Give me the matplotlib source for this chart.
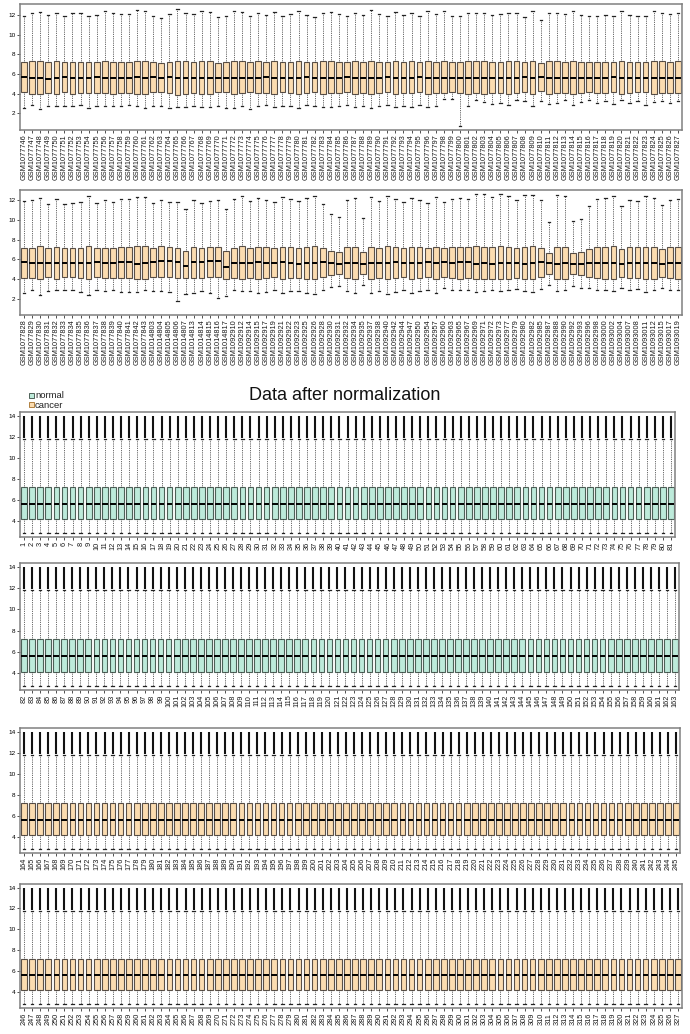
import matplotlib
matplotlib.use("Agg")
import matplotlib.pyplot as plt
from matplotlib.patches import Rectangle

plt.rcParams['font.family'] = ['Liberation Sans', 'DejaVu Sans']

# ---------------- data: raw (before normalization) ----------------
P1_LABELS = ["GSM%d" % v for v in range(1077746, 1077828)]
P2_IDS = [1077828, 1077829, 1077830, 1077831, 1077832, 1077833, 1077834, 1077835,
          1077836, 1077837, 1077838, 1077839, 1077840, 1077841, 1077842, 1077843,
          1014803, 1014804, 1014805, 1014806, 1014807, 1014813, 1014814, 1014815,
          1014816, 1014817,
          1092910, 1092912, 1092914, 1092915, 1092917, 1092919, 1092921, 1092922,
          1092923, 1092925, 1092926, 1092928, 1092930, 1092931, 1092932, 1092934,
          1092935, 1092937, 1092938, 1092940, 1092942, 1092944, 1092947, 1092950,
          1092954, 1092957,
          1092960, 1092963, 1092965, 1092967, 1092969, 1092971, 1092972, 1092973,
          1092977, 1092979, 1092980, 1092982, 1092985, 1092987, 1092988, 1092990,
          1092992, 1092993, 1092996, 1092998, 1093000, 1093002, 1093004, 1093007,
          1093008, 1093011, 1093012, 1093015, 1093017, 1093019]
P2_LABELS = ["GSM%d" % v for v in P2_IDS]

P1_WHISHI = [11.9, 12.2, 12.3, 12.0, 12.2, 11.9, 12.15, 12.15, 11.85, 12.0,
             12.4, 12.15, 12.1, 12.1, 12.5, 12.4, 11.9, 11.7, 12.1, 12.6,
             12.15, 12.1, 12.35, 12.3, 11.8, 11.9, 12.35, 12.3, 11.9, 12.2,
             12.0, 12.3, 11.9, 12.1, 12.4, 12.0, 11.8, 12.2, 12.3, 12.1,
             11.9, 12.2, 12.0, 12.5, 12.1, 11.85, 12.3, 12.0, 12.2, 11.9,
             12.4, 12.1, 12.4, 11.85, 11.85, 12.2, 12.15, 12.2, 12.0, 12.1,
             12.15, 12.2, 11.75, 12.4, 11.45, 12.2, 12.2, 12.1, 12.4, 12.0,
             11.9, 11.9, 12.0, 11.85, 12.4, 12.0, 11.9, 11.85, 12.35, 12.2,
             12.1, 12.15]
P1_Q3 = [7.25, 7.3, 7.3, 7.2, 7.3, 7.2, 7.25, 7.25, 7.2, 7.25,
         7.3, 7.25, 7.25, 7.25, 7.35, 7.3, 7.25, 7.15, 7.25, 7.35,
         7.3, 7.25, 7.35, 7.3, 7.15, 7.2, 7.3, 7.3, 7.2, 7.3,
         7.25, 7.3, 7.2, 7.25, 7.35, 7.25, 7.2, 7.3, 7.3, 7.25,
         7.2, 7.3, 7.25, 7.35, 7.25, 7.2, 7.3, 7.25, 7.3, 7.2,
         7.3, 7.25, 7.3, 7.2, 7.2, 7.3, 7.3, 7.3, 7.25, 7.25,
         7.3, 7.3, 7.2, 7.3, 7.15, 7.3, 7.3, 7.25, 7.3, 7.25,
         7.2, 7.25, 7.25, 7.2, 7.3, 7.25, 7.2, 7.2, 7.3, 7.3,
         7.25, 7.3]
P1_MED = [5.7, 5.55, 5.6, 5.5, 5.55, 5.65, 5.55, 5.55, 5.6, 5.65,
          5.6, 5.55, 5.6, 5.6, 5.65, 5.55, 5.7, 5.6, 5.65, 5.55,
          5.6, 5.55, 5.6, 5.6, 5.55, 5.6, 5.6, 5.6, 5.55, 5.6,
          5.65, 5.55, 5.6, 5.6, 5.55, 5.65, 5.6, 5.55, 5.6, 5.6,
          5.65, 5.55, 5.6, 5.55, 5.6, 5.65, 5.6, 5.55, 5.6, 5.65,
          5.55, 5.6, 5.6, 5.55, 5.55, 5.6, 5.55, 5.6, 5.6, 5.6,
          5.55, 5.6, 5.65, 5.6, 5.65, 5.55, 5.6, 5.6, 5.55, 5.6,
          5.6, 5.6, 5.6, 5.65, 5.55, 5.6, 5.6, 5.6, 5.55, 5.6,
          5.6, 5.6]
P1_Q1 = [4.2, 4.0, 3.95, 4.05, 4.0, 4.2, 4.0, 4.05, 4.1, 4.1,
         4.1, 4.0, 4.05, 4.05, 3.95, 4.0, 4.2, 4.15, 4.1, 3.9,
         4.0, 4.05, 4.0, 4.0, 4.15, 4.15, 4.0, 4.05, 4.15, 4.05,
         4.1, 4.0, 4.15, 4.05, 4.0, 4.1, 4.15, 4.0, 4.05, 4.1,
         4.15, 4.0, 4.1, 3.95, 4.05, 4.15, 4.0, 4.1, 4.05, 4.15,
         4.0, 4.1, 4.05, 4.15, 4.1, 4.0, 4.05, 4.0, 4.1, 4.05,
         4.0, 4.05, 4.2, 4.0, 4.3, 4.0, 4.05, 4.1, 4.0, 4.1,
         4.15, 4.1, 4.1, 4.15, 4.0, 4.1, 4.15, 4.15, 4.0, 4.05,
         4.1, 4.05]
P1_WHISLO = [2.5, 2.8, 2.45, 2.7, 2.7, 2.75, 2.75, 2.8, 2.5, 2.7,
             2.7, 2.7, 2.75, 2.8, 2.7, 2.5, 2.7, 2.7, 2.5, 2.6,
             2.6, 2.7, 2.6, 2.6, 2.75, 2.5, 2.5, 2.7, 2.4, 2.7,
             2.8, 2.6, 2.75, 2.7, 2.55, 2.8, 2.7, 2.6, 2.65, 2.75,
             2.8, 2.6, 2.7, 2.5, 2.7, 2.8, 2.65, 2.7, 2.6, 2.8,
             2.6, 2.7, 3.4, 3.4, 0.75, 2.7, 3.3, 3.1, 2.9, 3.0,
             2.8, 3.3, 3.2, 2.7, 3.2, 2.9, 3.0, 3.3, 2.8, 3.1,
             3.3, 3.0, 3.2, 2.9, 3.3, 3.0, 3.2, 2.8, 3.1, 3.2,
             3.0, 3.2]

P2_WHISHI = [11.9, 12.0, 12.25, 11.6, 12.15, 11.6, 11.75, 11.8, 12.4, 11.75,
             12.0, 11.8, 12.15, 12.15, 12.3, 12.3, 11.75, 12.0, 11.85, 11.85,
             11.15, 12.0, 11.75, 11.9, 12.0, 11.15, 12.1, 12.4, 11.9, 12.2,
             12.0, 11.8, 12.3, 12.1, 11.9, 12.2, 12.4, 11.6, 10.6, 10.3,
             12.0, 12.2, 10.2, 12.3, 11.9, 12.4, 12.1, 11.8, 12.2, 12.0,
             11.7, 12.3, 11.8, 12.1, 12.25, 12.15, 12.6, 12.65, 12.3, 12.6,
             12.4, 12.0, 12.5, 12.55, 12.05, 9.8, 12.5, 12.4, 9.9, 10.1,
             11.4, 12.15, 12.25, 12.4, 11.4, 12.0, 11.95, 12.4, 12.25, 11.5,
             12.05, 12.1]
P2_Q3 = [7.2, 7.2, 7.35, 7.2, 7.3, 7.2, 7.2, 7.2, 7.35, 7.2,
         7.2, 7.2, 7.3, 7.3, 7.35, 7.35, 7.2, 7.35, 7.3, 7.2,
         6.9, 7.3, 7.2, 7.3, 7.3, 6.9, 7.2, 7.35, 7.2, 7.3,
         7.25, 7.2, 7.3, 7.25, 7.2, 7.3, 7.35, 7.15, 6.9, 6.8,
         7.25, 7.3, 6.75, 7.3, 7.2, 7.35, 7.25, 7.15, 7.3, 7.25,
         7.15, 7.3, 7.2, 7.25, 7.3, 7.25, 7.35, 7.3, 7.3, 7.35,
         7.3, 7.2, 7.3, 7.35, 7.2, 6.6, 7.3, 7.3, 6.7, 6.8,
         7.1, 7.25, 7.3, 7.35, 7.1, 7.25, 7.25, 7.3, 7.3, 7.1,
         7.25, 7.3]
P2_MED = [5.7, 5.6, 5.65, 5.65, 5.6, 5.65, 5.65, 5.6, 5.6, 5.7,
          5.6, 5.65, 5.75, 5.7, 5.55, 5.65, 5.75, 5.85, 5.85, 5.75,
          5.3, 5.7, 5.7, 5.8, 5.8, 5.2, 5.65, 5.6, 5.6, 5.7,
          5.65, 5.6, 5.7, 5.6, 5.55, 5.65, 5.6, 5.7, 5.6, 5.55,
          5.65, 5.6, 5.5, 5.6, 5.65, 5.6, 5.7, 5.6, 5.65, 5.6,
          5.7, 5.6, 5.7, 5.65, 5.7, 5.7, 5.55, 5.6, 5.55, 5.6,
          5.6, 5.6, 5.55, 5.6, 5.75, 5.6, 5.55, 5.6, 5.55, 5.55,
          5.6, 5.6, 5.6, 5.6, 5.55, 5.6, 5.6, 5.6, 5.6, 5.55,
          5.65, 5.65]
P2_Q1 = [4.15, 4.1, 4.0, 4.25, 4.0, 4.25, 4.25, 4.15, 4.0, 4.25,
         4.1, 4.15, 4.15, 4.15, 4.0, 4.0, 4.25, 4.25, 4.25, 4.15,
         4.1, 4.15, 4.15, 4.25, 4.25, 4.0, 4.1, 4.0, 4.15, 4.05,
         4.1, 4.2, 4.05, 4.1, 4.15, 4.05, 4.0, 4.2, 4.4, 4.5,
         4.1, 4.05, 4.55, 4.0, 4.15, 4.0, 4.1, 4.2, 4.05, 4.1,
         4.2, 4.05, 4.2, 4.1, 4.05, 4.1, 4.0, 4.05, 4.05, 4.0,
         4.05, 4.15, 4.05, 4.0, 4.2, 4.5, 4.0, 4.05, 4.5, 4.4,
         4.25, 4.1, 4.05, 4.0, 4.25, 4.1, 4.1, 4.0, 4.05, 4.25,
         4.1, 4.05]
P2_WHISLO = [2.55, 2.9, 2.4, 2.75, 2.85, 2.9, 2.9, 2.65, 2.4, 2.85,
             2.75, 2.9, 2.65, 2.65, 2.65, 2.9, 2.75, 2.75, 2.65, 1.75,
             2.45, 2.6, 2.75, 2.6, 2.1, 2.25, 2.9, 2.75, 2.8, 2.6,
             2.7, 2.9, 2.6, 2.75, 2.8, 2.6, 2.5, 2.9, 3.2, 3.3,
             2.8, 2.6, 3.4, 2.6, 2.8, 2.5, 2.7, 2.9, 2.6, 2.75,
             2.9, 2.6, 3.1, 2.9, 2.9, 2.9, 2.7, 2.8, 2.9, 2.8,
             2.9, 3.0, 2.8, 2.7, 3.0, 3.4, 2.8, 2.9, 3.25, 3.1,
             3.1, 2.9, 2.9, 2.8, 3.1, 2.9, 3.0, 2.7, 2.9, 3.1,
             2.9, 2.9]

# ---------------- data: after normalization (identical distributions) ----------------
NORM_PANELS = [(1, 81), (82, 163), (164, 245), (246, 327)]
NORM_GROUP = ["normal", "normal", "cancer", "cancer"]
NORM_WHISLO = 2.85
NORM_Q1 = 4.15
NORM_MED = 5.6
NORM_Q3 = 7.2
NORM_WHISHI = 11.8
NORM_OUT_LO = 11.9
NORM_OUT_HI = 14.0
LEGEND_LABELS = ["normal", "cancer"]

# ---------------- styling ----------------
ORANGE = "#FBDCB0"
ORANGE_EDGE = "#5a5048"
GREEN = "#BDEADA"
GREEN_EDGE = "#4e6158"
FRAME = "#808080"
W, H = 690, 1034

fig = plt.figure(figsize=(W / 100, H / 100), dpi=100)


def add_ax(x0, x1, y0, y1):
    return fig.add_axes([x0 / W, 1 - y1 / H, (x1 - x0) / W, (y1 - y0) / H])


def draw(ax, whislo, q1, med, q3, whishi, labels, fill, edge, ylim, yticks,
         out_lo=None, out_hi=None):
    n = len(labels)
    stats = []
    for i in range(n):
        stats.append(dict(whislo=whislo[i], q1=q1[i], med=med[i], q3=q3[i],
                          whishi=whishi[i], fliers=[]))
    pos = list(range(1, n + 1))
    if out_lo is not None:
        ax.vlines(pos, out_lo, out_hi, color="#111111", lw=1.5, zorder=1)
    ax.bxp(stats, positions=pos, widths=0.7, patch_artist=True, showfliers=False,
           boxprops=dict(facecolor=fill, edgecolor=edge, linewidth=0.8),
           medianprops=dict(color="black", linewidth=1.4),
           whiskerprops=dict(color="#333333", linestyle=(0, (1, 1.2)), linewidth=0.6),
           capprops=dict(color="#222222", linewidth=0.9), capwidths=0.3)
    ax.set_xlim(0.5, n + 0.5)
    ax.set_ylim(*ylim)
    ax.set_yticks(yticks)
    ax.set_yticklabels([str(t) for t in yticks], fontsize=4.6)
    ax.set_xticks(pos)
    ax.set_xticklabels(labels, rotation=90, fontsize=5.3, color="#1a1a1a")
    ax.tick_params(axis="both", length=2.2, width=0.6, color="#333333", pad=1.2)
    for s in ax.spines.values():
        s.set_color(FRAME)
        s.set_linewidth(1.1)


# raw panels
ax1 = add_ax(20, 682, 4, 130)
draw(ax1, P1_WHISLO, P1_Q1, P1_MED, P1_Q3, P1_WHISHI, P1_LABELS, ORANGE, ORANGE_EDGE,
     (0.3, 13.1), [2, 4, 6, 8, 10, 12])
ax2 = add_ax(20, 682, 190, 315)
draw(ax2, P2_WHISLO, P2_Q1, P2_MED, P2_Q3, P2_WHISHI, P2_LABELS, ORANGE, ORANGE_EDGE,
     (0.35, 13.05), [2, 4, 6, 8, 10, 12])

# normalized panels
rects = [(20, 675, 412, 537), (20, 679, 563, 690), (20, 680, 728, 853), (20, 682, 884, 1008)]
for (a, b), grp, (x0, x1, y0, y1) in zip(NORM_PANELS, NORM_GROUP, rects):
    n = b - a + 1
    labs = [str(v) for v in range(a, b + 1)]
    fill, edge = (GREEN, GREEN_EDGE) if grp == "normal" else (ORANGE, ORANGE_EDGE)
    ax = add_ax(x0, x1, y0, y1)
    draw(ax, [NORM_WHISLO] * n, [NORM_Q1] * n, [NORM_MED] * n, [NORM_Q3] * n,
         [NORM_WHISHI] * n, labs, fill, edge, (2.45, 14.35), [4, 6, 8, 10, 12, 14],
         out_lo=NORM_OUT_LO, out_hi=NORM_OUT_HI)

# title & legend
fig.text(345 / W, 1 - 396 / H, "Data after normalization", ha="center", va="center",
         fontsize=13, color="#111111")
fig.patches.append(Rectangle((29 / W, 1 - 397.5 / H), 5 / W, 4.5 / H, transform=fig.transFigure,
                             facecolor=GREEN, edgecolor=GREEN_EDGE, lw=0.7))
fig.patches.append(Rectangle((29 / W, 1 - 406.5 / H), 5 / W, 4.5 / H, transform=fig.transFigure,
                             facecolor=ORANGE, edgecolor="#b08040", lw=0.7))
fig.text(35 / W, 1 - 398 / H, LEGEND_LABELS[0], ha="left", va="baseline", fontsize=6.8,
         color="#222222")
fig.text(35 / W, 1 - 407.5 / H, LEGEND_LABELS[1], ha="left", va="baseline", fontsize=6.8,
         color="#222222")

fig.savefig("out.png", dpi=100)
